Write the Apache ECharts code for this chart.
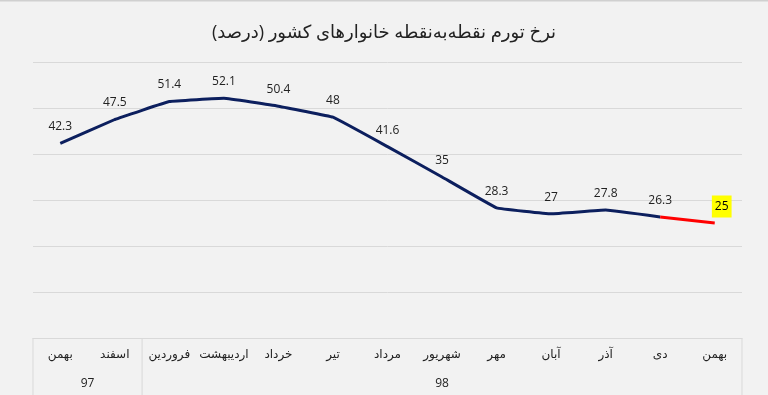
<!DOCTYPE html>
<html><head><meta charset="utf-8">
<script src="https://cdn.jsdelivr.net/npm/echarts@6/dist/echarts.min.js"></script>
<style>html,body{margin:0;padding:0;background:#f2f2f2}#c{width:768px;height:395px}</style>
</head><body><div id="c"></div>
<script>
var titleText = 'نرخ تورم نقطه‌به‌نقطه خانوارهای کشور (درصد)';
var categories = ['بهمن','اسفند','فروردین','اردیبهشت','خرداد','تیر','مرداد','شهریور','مهر','آبان','آذر','دی','بهمن'];
var values = [42.3, 47.5, 51.4, 52.1, 50.4, 48, 41.6, 35, 28.3, 27, 27.8, 26.3, 25];
var groupLabels = ['97','98'];
var groupSizes = [2, 11];

var FONT = '"Open Sans", "DejaVu Sans", sans-serif';
var chart = echarts.init(document.getElementById('c'));
var lastIdx = values.length - 1;

var mainData = values.map(function (v, i) { return i < lastIdx ? v : null; });
var tailData = values.map(function (v, i) {
  if (i === lastIdx) {
    return { value: v, label: { show: true, backgroundColor: '#ffff00', padding: [5, 3, 5, 3], offset: [7, 5], color: '#000' } };
  }
  return i === lastIdx - 1 ? { value: v, label: { show: false } } : null;
});

var labelCfg = { show: true, position: 'top', distance: 10, fontFamily: FONT, fontSize: 12, color: '#222' };

chart.setOption({
  backgroundColor: '#f2f2f2',
  animation: false,
  title: {
    text: titleText, left: 'center', top: 19,
    textStyle: { fontFamily: FONT, fontSize: 18, fontWeight: 'normal', color: '#222' }
  },
  grid: { left: 33, right: 26, top: 62, bottom: 57 },
  xAxis: {
    type: 'category', data: categories, boundaryGap: true,
    axisLine: { show: true, lineStyle: { color: '#d9d9d9', width: 1 } },
    axisTick: { show: false },
    axisLabel: { interval: 0, margin: 11, fontFamily: FONT, fontSize: 12, color: '#222' }
  },
  yAxis: {
    type: 'value', min: 0, max: 60, interval: 10,
    axisLine: { show: false }, axisTick: { show: false }, axisLabel: { show: false },
    splitLine: { lineStyle: { color: '#d9d9d9', width: 1 } }
  },
  series: [{
    type: 'line', data: mainData, smooth: 0.06, symbol: 'circle', symbolSize: 1, showSymbol: true,
    lineStyle: { width: 3, color: '#0c1f5e' }, itemStyle: { color: 'rgba(0,0,0,0)' },
    label: labelCfg
  }, {
    type: 'line', data: tailData, smooth: false, symbol: 'circle', symbolSize: 1, showSymbol: true,
    lineStyle: { width: 3, color: '#ff0000' }, itemStyle: { color: 'rgba(0,0,0,0)' },
    label: labelCfg
  }]
});

// Table-like frame under the category axis
(function () {
  var c0 = chart.convertToPixel({ xAxisIndex: 0 }, 0);
  var c1 = chart.convertToPixel({ xAxisIndex: 0 }, 1);
  var bw = c1 - c0;
  var yTop = chart.convertToPixel({ yAxisIndex: 0 }, 0);
  var H = 395;
  var els = [];
  var start = 0;
  var lineStyle = { stroke: '#d9d9d9', lineWidth: 1 };
  els.push({ type: 'line', shape: { x1: c0 - bw / 2, y1: yTop, x2: c0 - bw / 2, y2: H }, style: lineStyle });
  groupLabels.forEach(function (g, gi) {
    var end = start + groupSizes[gi];
    var xl = c0 + (start - 0.5) * bw;
    var xr = c0 + (end - 0.5) * bw;
    els.push({ type: 'line', shape: { x1: xr, y1: yTop, x2: xr, y2: H }, style: lineStyle });
    els.push({ type: 'text', x: (xl + xr) / 2, y: yTop + 46,
      style: { text: g, fontFamily: FONT, fontSize: 12, fill: '#222', align: 'center', verticalAlign: 'middle' } });
    start = end;
  });
  els.push({ type: 'line', shape: { x1: 0, y1: 0.5, x2: 768, y2: 0.5 }, style: { stroke: '#d0d0d0', lineWidth: 2 } });
  chart.setOption({ graphic: els });
})();
</script></body></html>
